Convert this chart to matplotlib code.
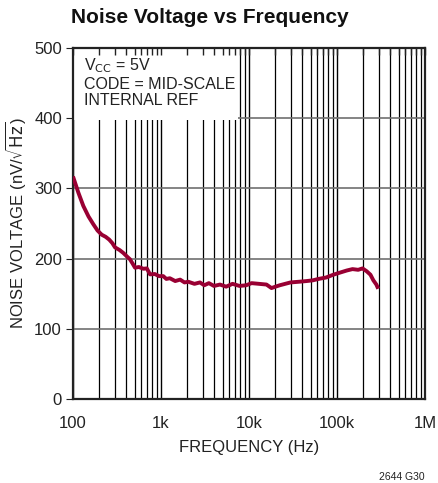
import numpy as np
import matplotlib
matplotlib.use("Agg")
import matplotlib.pyplot as plt
from matplotlib.patches import Rectangle
from matplotlib.ticker import LogLocator, NullFormatter, FixedLocator, FixedFormatter

plt.rcParams["font.family"] = ["Liberation Sans", "DejaVu Sans"]
plt.rcParams["mathtext.fontset"] = "dejavusans"

# noise curve
freq_hz = [100, 115, 131, 150, 170, 190, 212, 235, 258, 280, 300, 340, 373, 410,
           444, 475, 507, 560, 631, 690, 750, 850, 950, 1060, 1150, 1260, 1450,
           1650, 1850, 2040, 2400, 2770, 3100, 3500, 4000, 4680, 5500, 6500,
           7800, 9300, 10700, 13000, 15800, 18000, 20000, 22400, 29600, 37000,
           45300, 53000, 61600, 75000, 90800, 108000, 129000, 150000, 174000,
           195000, 217000, 240000, 259000, 280000, 294000]
noise_nv = [317, 294, 275, 260, 249, 240, 234, 231, 227, 222, 216, 212, 208, 203,
            199, 193, 187, 188, 185.5, 186, 177.5, 178, 175, 175, 171, 172, 168,
            170, 166, 167, 164, 166, 162, 165, 161, 163, 160, 164,
            161, 162, 165, 164, 163, 158, 160, 162, 166, 167,
            168, 169, 171, 173, 177, 180, 183, 185, 184,
            186, 182, 177, 169, 163, 157]

x_ticks = [1e2, 1e3, 1e4, 1e5, 1e6]
x_labels = ["100", "1k", "10k", "100k", "1M"]
y_ticks = [0, 100, 200, 300, 400, 500]

fig = plt.figure(figsize=(4.39, 4.83), dpi=100)
ax = fig.add_axes([0.1663, 0.174, 0.8018, 0.7266])

ax.plot(freq_hz, noise_nv, color="#990033", lw=2.8, zorder=3, solid_capstyle="butt")

ax.set_xscale("log")
ax.set_xlim(1e2, 1e6)
ax.set_ylim(0, 500)
ax.xaxis.set_major_locator(FixedLocator(x_ticks))
ax.xaxis.set_major_formatter(FixedFormatter(x_labels))
ax.xaxis.set_minor_locator(LogLocator(base=10, subs=np.arange(2, 10)))
ax.xaxis.set_minor_formatter(NullFormatter())
ax.set_yticks(y_ticks)

ax.set_axisbelow(True)
ax.grid(True, which="major", axis="x", color="black", lw=1.0)
ax.grid(True, which="minor", axis="x", color="black", lw=0.9)
ax.grid(True, which="major", axis="y", color="#707070", lw=1.2)
ax.tick_params(axis="x", which="both", length=0, labelsize=12, pad=12, colors="#222")
ax.tick_params(axis="y", which="major", length=5, direction="out", labelsize=12,
               pad=3, colors="#222")
for s in ax.spines.values():
    s.set_linewidth(1.6)
    s.set_color("#222")

# white note box covering the grid in the top-left corner
ax.add_patch(Rectangle((0, 0.795), 0.469, 0.205, transform=ax.transAxes,
                       facecolor="white", edgecolor="none", zorder=1))
ax.text(0.03, 0.975, "V$_{\\mathsf{CC}}$ = 5V\nCODE = MID-SCALE\nINTERNAL REF",
        transform=ax.transAxes, ha="left", va="top", fontsize=11.5,
        linespacing=1.1, color="#222", zorder=4)

# short inward ticks along the top edge
top = ax.twiny()
top.set_xscale("log")
top.set_xlim(1e2, 1e6)
top.xaxis.set_major_locator(FixedLocator(x_ticks))
top.xaxis.set_minor_locator(LogLocator(base=10, subs=np.arange(2, 10)))
top.xaxis.set_major_formatter(NullFormatter())
top.xaxis.set_minor_formatter(NullFormatter())
top.tick_params(axis="x", which="both", direction="in", length=5, width=1, colors="#222")
for s in top.spines.values():
    s.set_visible(False)

ax.set_xlabel("FREQUENCY (Hz)", fontsize=12, labelpad=7, color="#222")
ax.set_ylabel("NOISE VOLTAGE (nV/$\\sqrt{\\mathsf{Hz}}$)", fontsize=12, labelpad=4,
              color="#222")

fig.text(0.162, 0.963, "Noise Voltage vs Frequency", fontsize=15, fontweight="bold",
         ha="left", va="center", color="#111")
fig.text(0.968, 0.003, "2644 G30", fontsize=7.5, ha="right", va="bottom", color="#222")

fig.savefig("out.png", dpi=100)
